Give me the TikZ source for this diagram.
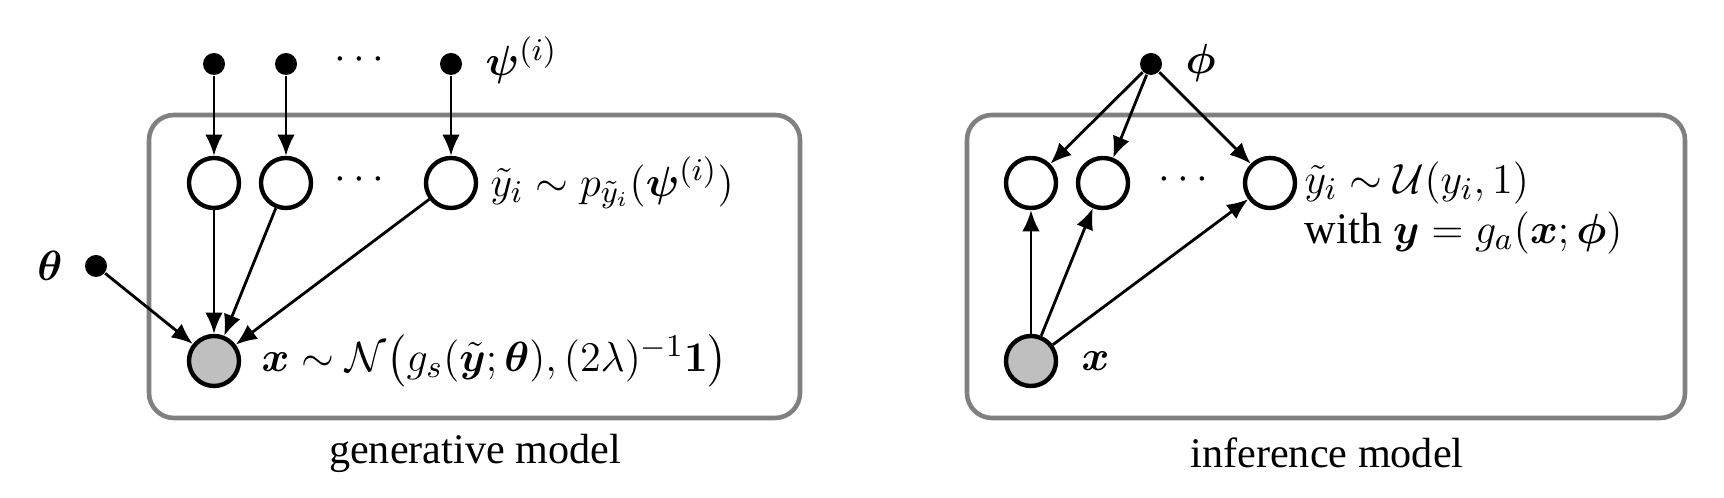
\documentclass[tikz,border=0pt]{standalone}
\usepackage{amsmath,amssymb,bm}
\usepackage[no-math]{fontspec}
\setmainfont{Liberation Serif}
\usetikzlibrary{arrows.meta}
\begin{document}
\begin{tikzpicture}[x=0.01cm,y=-0.01cm,
 latent/.style={circle,draw,line width=1.25pt,minimum size=0.5cm,inner sep=0pt},
 obs/.style={latent,fill=gray!50},
 param/.style={circle,fill,inner sep=0pt,minimum size=0.22cm},
 plate/.style={draw=gray,line width=1.3pt,rounded corners=0.25cm},
 edge/.style={-{Latex[length=6pt,width=5pt]},line width=0.8pt},
 lbl/.style={font=\fontsize{12.4}{15}\selectfont,inner sep=0pt},
 caption/.style={font=\fontsize{12}{14}\selectfont,inner sep=0pt}]
\useasboundingbox (0,0) rectangle (1724,498);
% generative model
\draw[plate] (149,115) rectangle (800,418);
\node[param] (p1) at (214,64) {};
\node[param] (p2) at (286,64) {};
\node[param] (p3) at (451,64) {};
\node[lbl] (pdots) at (363,60) {$\cdots$};
\node[lbl,anchor=west] (plbl) at (485,60) {$\bm{\psi}^{(i)}$};
\node[latent] (y1) at (214,183) {};
\node[latent] (y2) at (286,183) {};
\node[latent] (y3) at (451,183) {};
\node[lbl] (ydots) at (363,180) {$\cdots$};
\node[lbl,anchor=west] (ylbl) at (490,183) {$\tilde{y}_i \sim p_{\tilde{y}_i}(\bm{\psi}^{(i)})$};
\node[obs] (x) at (214,361) {};
\node[lbl,anchor=west] (xlbl) at (261,361) {$\bm{x} \sim \mathcal{N}\bigl(g_s(\tilde{\bm{y}};\bm{\theta}),(2\lambda)^{-1}\mathbf{1}\bigr)$};
\node[param] (th) at (96,266) {};
\node[lbl] (thlbl) at (50,266) {$\bm{\theta}$};
\node[caption] (gcap) at (475,453) {generative model};
\draw[edge] (p1) -- (y1);
\draw[edge] (p2) -- (y2);
\draw[edge] (p3) -- (y3);
\draw[edge] (y1) -- (x);
\draw[edge] (y2) -- (x);
\draw[edge] (y3) -- (x);
\draw[edge] (th) -- (x);
% inference model
\draw[plate] (967,115) rectangle (1685,418);
\node[param] (phi) at (1151,64) {};
\node[lbl,anchor=west] (philbl) at (1185,63) {$\bm{\phi}$};
\node[latent] (q1) at (1031,183) {};
\node[latent] (q2) at (1103,183) {};
\node[latent] (q3) at (1270,183) {};
\node[lbl] (qdots) at (1187,180) {$\cdots$};
\node[lbl,anchor=west] (qlbl1) at (1304,183) {$\tilde{y}_i \sim \mathcal{U}(y_i,1)$};
\node[lbl,anchor=west] (qlbl2) at (1304,233) {with $\bm{y} = g_a(\bm{x};\bm{\phi})$};
\node[obs] (qx) at (1031,361) {};
\node[lbl,anchor=west] (qxlbl) at (1081,361) {$\bm{x}$};
\node[caption] (icap) at (1327,453) {inference model};
\draw[edge] (phi) -- (q1);
\draw[edge] (phi) -- (q2);
\draw[edge] (phi) -- (q3);
\draw[edge] (qx) -- (q1);
\draw[edge] (qx) -- (q2);
\draw[edge] (qx) -- (q3);
\end{tikzpicture}
\end{document}
